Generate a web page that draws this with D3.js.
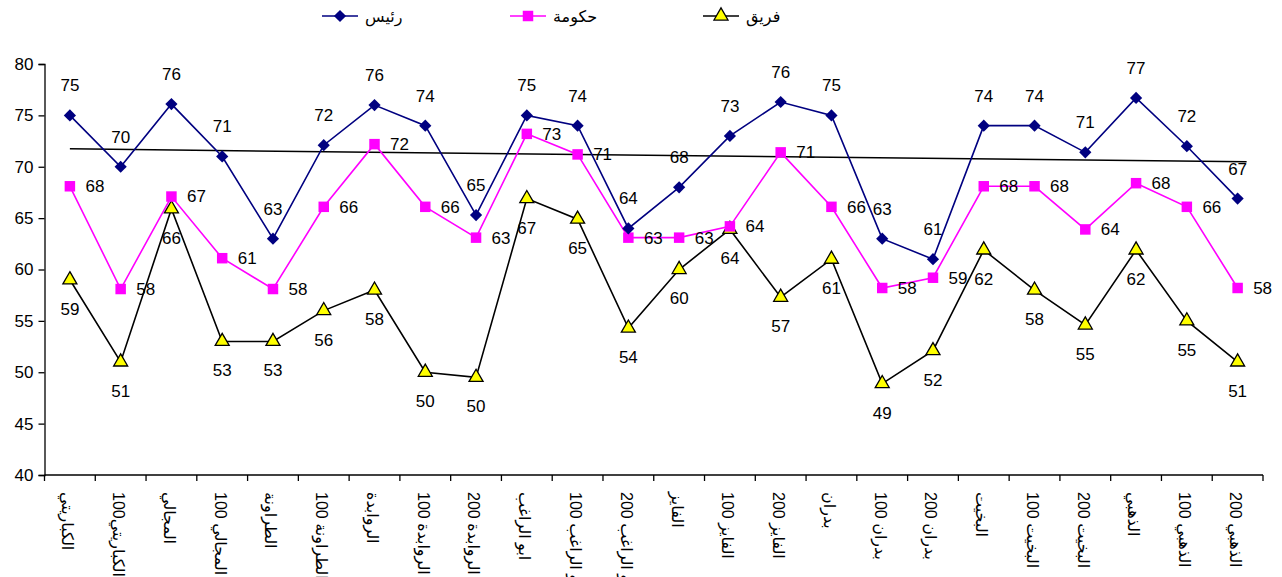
<!DOCTYPE html>
<html><head><meta charset="utf-8">
<script src="https://cdn.jsdelivr.net/npm/d3@7"></script>
<style>
html,body{margin:0;padding:0;background:#fff;}
svg{display:block;font-family:"Liberation Sans",Arial,"DejaVu Sans",sans-serif;}
</style></head>
<body>
<svg id="chart" width="1282" height="577"></svg>
<script>
const categories = ["الكباريتي","100الكباريتي","المجالي","100 المجالي","الطراونة","100 الطراونة","الروابدة","100 الروابدة","200 الروابدة","ابو الراغب","100 ابو الراغب","200 ابو الراغب","الفايز","100 الفايز","200 الفايز","بدران","100 بدران","200 بدران","البخيت","100 البخيت","200 البخيت","الذهبي","100 الذهبي","200 الذهبي"];
const raees  = [75,70,76.1,71,63,72.1,76,74,65.3,75,74,64,68,73,76.3,75,63,61,74,74,71.4,76.7,72,66.9];
const hukuma = [68.1,58.1,67.1,61.1,58.1,66.1,72.2,66.1,63.1,73.2,71.2,63.1,63.1,64.2,71.4,66.1,58.2,59.2,68.1,68.1,63.9,68.4,66.1,58.2];
const fareeq = [59,51,65.9,53,53,56,58,50,49.5,66.9,64.9,54.3,60,63.9,57.3,61,48.9,52.1,61.9,58,54.6,61.9,55,51];
const seriesNames = ["رئيس","حكومة","فريق"];
const yTicks = [40,45,50,55,60,65,70,75,80];

const svg = d3.select("#chart");
const mLeft = 44.5, mRight = 1263, mTop = 64, mBottom = 475;
const x = d3.scaleBand().domain(d3.range(categories.length)).range([mLeft,mRight]);
const y = d3.scaleLinear().domain([40,80]).range([mBottom,mTop]);
const cx = i => x(i) + x.bandwidth()/2;
const FS = 17;

// axes
const yAxis = d3.axisLeft(y).tickValues(yTicks).tickSize(6).tickPadding(5).tickFormat(d3.format("d"));
const gy = svg.append("g").attr("transform",`translate(${mLeft},0)`).call(yAxis);
gy.select(".domain").attr("stroke","#000").attr("stroke-width",1.3);
gy.selectAll(".tick line").attr("stroke","#000").attr("stroke-width",1.3);
gy.selectAll(".tick text").attr("font-size",FS).attr("fill","#000").attr("font-family","Liberation Sans, Arial, sans-serif");

const gx = svg.append("g").attr("transform",`translate(0,${mBottom})`);
gx.append("line").attr("x1",mLeft).attr("x2",mRight).attr("stroke","#000").attr("stroke-width",1.3);
const bounds = d3.range(categories.length+1).map(i => i<categories.length ? x(i) : mRight);
gx.selectAll("line.tk").data(bounds).join("line").attr("class","tk")
  .attr("x1",d=>d).attr("x2",d=>d).attr("y1",0).attr("y2",6).attr("stroke","#000").attr("stroke-width",1.3);
gx.selectAll("text").data(categories).join("text")
  .attr("transform",(d,i)=>`translate(${cx(i)-2},17) rotate(90)`)
  .attr("dy","0.35em").attr("text-anchor","start").attr("font-size",16).attr("fill","#000")
  .text(d=>d);

// trend line (least squares of رئيس)
const n = raees.length, xs = d3.range(n);
const mx = d3.mean(xs), my = d3.mean(raees);
const slope = d3.sum(xs.map((xi,i)=>(xi-mx)*(raees[i]-my))) / d3.sum(xs.map(xi=>(xi-mx)*(xi-mx)));
const icpt = my - slope*mx;
svg.append("line").attr("x1",cx(0)).attr("x2",cx(n-1)+9)
  .attr("y1",y(icpt)).attr("y2",y(icpt+slope*(n-1+9/x.bandwidth())))
  .attr("stroke","#000").attr("stroke-width",1.5);

const line = d3.line().x((d,i)=>cx(i)).y(d=>y(d));
function drawLine(data,color){
  svg.append("path").datum(data).attr("d",line).attr("fill","none").attr("stroke",color).attr("stroke-width",1.6);
}
drawLine(fareeq,"#000");
drawLine(hukuma,"#FF00FF");
drawLine(raees,"#000080");

const sym = {
  diamond: d3.symbol().type(d3.symbolDiamond2).size(95),
  square: d3.symbol().type(d3.symbolSquare).size(110),
  tri: d3.symbol().type(d3.symbolTriangle).size(85)
};
function markers(data,path,fill,stroke){
  svg.append("g").selectAll("path").data(data).join("path")
    .attr("d",path).attr("transform",(d,i)=>`translate(${cx(i)},${y(d)})`)
    .attr("fill",fill).attr("stroke",stroke).attr("stroke-width",stroke==="none"?0:1.3);
}
markers(fareeq,sym.tri,"#FFFF00","#000");
markers(hukuma,sym.square,"#FF00FF","none");
markers(raees,sym.diamond,"#000080","none");

function labels(data,dx,dy,anchor){
  svg.append("g").selectAll("text").data(data).join("text")
    .attr("x",(d,i)=>cx(i)+dx).attr("y",(d,i)=>y(d)+dy).attr("dy","0.35em")
    .attr("text-anchor",anchor).attr("font-size",FS).attr("fill","#000")
    .text(d=>Math.round(d));
}
labels(raees,0,-30,"middle");
labels(hukuma,25,0,"middle");
labels(fareeq,0,29,"middle");

// legend
const legend = [
  {name:seriesNames[0],color:"#000080",sym:sym.diamond,fill:"#000080",stroke:"none",x1:322},
  {name:seriesNames[1],color:"#FF00FF",sym:sym.square,fill:"#FF00FF",stroke:"none",x1:510},
  {name:seriesNames[2],color:"#000",sym:sym.tri,fill:"#FFFF00",stroke:"#000",x1:703}
];
const ly = 16;
const lg = svg.append("g");
legend.forEach(l=>{
  lg.append("line").attr("x1",l.x1).attr("x2",l.x1+36).attr("y1",ly).attr("y2",ly).attr("stroke",l.color).attr("stroke-width",1.6);
  lg.append("path").attr("d",l.sym).attr("transform",`translate(${l.x1+18},${ly})`).attr("fill",l.fill).attr("stroke",l.stroke).attr("stroke-width",l.stroke==="none"?0:1.3);
  lg.append("text").attr("x",l.x1+43).attr("y",ly).attr("dy","0.35em").attr("font-size",16).attr("fill","#000").attr("text-anchor","start").text(l.name);
});
</script>
</body></html>
